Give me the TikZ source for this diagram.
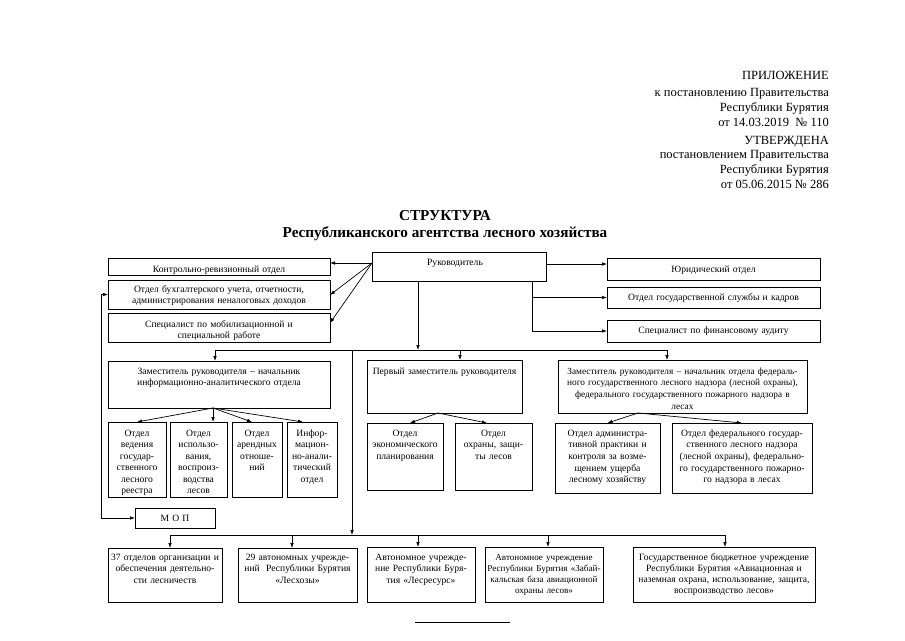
\documentclass[tikz,border=0pt]{standalone}
\usepackage{fontspec}
\setmainfont{Liberation Serif}
\usetikzlibrary{arrows.meta,calc}
\tikzset{
  box/.style={draw, line width=0.7pt, inner sep=0pt, outer sep=0pt, anchor=north west},
  txt/.style={inner sep=0pt, outer sep=0pt, anchor=base, align=center},
  arr/.style={-{Latex[length=5pt,width=3.6pt]}, line width=0.7pt},
  darr/.style={{Latex[length=5pt,width=3.6pt]}-{Latex[length=5pt,width=3.6pt]}, line width=0.7pt},
  ln/.style={line width=0.7pt},
  hdr/.style={inner sep=0pt, anchor=base east, font=\fontsize{12.5}{14}\selectfont},
  ttl/.style={inner sep=0pt, anchor=base, font=\bfseries\fontsize{15.2}{17}\selectfont},
}
\newcommand\mybx[5]{\node[box, minimum width={#4-#2}, minimum height={#5-#3}] (#1) at (#2,#3) {};}
\newcommand\mytx[6]{\node[txt, text width=#4, font=\fontsize{9.6}{#5}\selectfont] (#1) at (#2,#3) {#6};}
\begin{document}
\begin{tikzpicture}[x=1pt,y=-1pt]
\useasboundingbox (0,0) rectangle (905,640);
\fill[white] (0,0) rectangle (905,640);

% header
\node[hdr] (h1) at (829,79) {ПРИЛОЖЕНИЕ};
\node[hdr] (h2) at (829,96) {к постановлению Правительства};
\node[hdr] (h3) at (829,111) {Республики Бурятия};
\node[hdr] (h4) at (829,126) {от 14.03.2019\ \ № 110};
\node[hdr] (h5) at (829,144) {УТВЕРЖДЕНА};
\node[hdr] (h6) at (829,158) {постановлением Правительства};
\node[hdr] (h7) at (829,173) {Республики Бурятия};
\node[hdr] (h8) at (829,188) {от 05.06.2015 № 286};

% title
\node[ttl] (t1) at (445,220) {СТРУКТУРА};
\node[ttl] (t2) at (445,237.5) {Республиканского агентства лесного хозяйства};

% top row boxes
\mybx{kro}{108}{258}{330}{275}
\mytx{kroT}{219}{272}{230}{11}{Контрольно-ревизионный отдел}
\mybx{buh}{108}{280}{330}{309}
\mytx{buhT}{219}{292}{230}{11.5}{Отдел бухгалтерского учета, отчетности,\\администрирования неналоговых доходов}
\mybx{mob}{108}{313}{330}{342}
\mytx{mobT}{219}{327}{230}{11}{Специалист по мобилизационной и\\специальной работе}
\mybx{ruk}{372}{252}{546}{281}
\mytx{rukT}{455}{265}{170}{11}{Руководитель}
\mybx{yur}{607}{258}{820}{280}
\mytx{yurT}{713.5}{272}{220}{11}{Юридический отдел}
\mybx{gos}{607}{287}{820}{308}
\mytx{gosT}{713.5}{300}{220}{11}{Отдел государственной службы и кадров}
\mybx{fin}{607}{320}{820}{342}
\mytx{finT}{713.5}{333}{220}{11}{Специалист по финансовому аудиту}

% deputies
\mybx{dep1}{108}{361}{330}{408}
\mytx{dep1T}{219}{374}{230}{11}{Заместитель руководителя – начальник\\информационно-аналитического отдела}
\mybx{dep2}{367}{360}{522}{413}
\mytx{dep2T}{444.5}{374}{160}{11}{Первый заместитель руководителя}
\mybx{dep3}{558}{360}{807}{413}
\mytx{dep3T}{682.5}{374}{260}{11.7}{\fontsize{9.3}{11.7}\selectfont Заместитель руководителя – начальник отдела федераль-\\ного государственного лесного надзора (лесной охраны),\\федерального государственного пожарного надзора в\\лесах}

% sub departments
\mybx{s1}{108}{422}{166}{497}
\mytx{s1T}{137}{436}{70}{11.5}{Отдел\\ведения\\государ-\\ственного\\лесного\\реестра}
\mybx{s2}{170}{422}{227}{497}
\mytx{s2T}{198.5}{436}{70}{11.5}{Отдел\\использо-\\вания,\\воспроиз-\\водства\\лесов}
\mybx{s3}{232}{422}{282}{497}
\mytx{s3T}{257}{436}{70}{11.5}{Отдел\\арендных\\отноше-\\ний}
\mybx{s4}{287}{422}{337}{497}
\mytx{s4T}{312}{436}{70}{11.5}{Инфор-\\мацион-\\но-анали-\\тический\\отдел}
\mybx{sa}{367}{423}{443}{490}
\mytx{saT}{405}{436}{90}{11.7}{Отдел\\экономического\\планирования}
\mybx{sb}{455}{423}{532}{490}
\mytx{sbT}{493.5}{436}{90}{11.7}{Отдел\\охраны, защи-\\ты лесов}
\mybx{sc}{555}{423}{660}{493}
\mytx{scT}{607.5}{436}{120}{11.7}{Отдел администра-\\тивной практики и\\контроля за возме-\\щением ущерба\\лесному хозяйству}
\mybx{sd}{672}{423}{812}{493}
\mytx{sdT}{742}{436}{160}{11.7}{Отдел федерального государ-\\ственного лесного надзора\\(лесной охраны), федерально-\\го государственного пожарно-\\го надзора в лесах}

% MOP
\mybx{mop}{135}{508}{215}{528}
\mytx{mopT}{175}{521}{80}{11}{М О П}

% bottom boxes
\mybx{b1}{108}{548}{222}{602}
\mytx{b1T}{165}{560}{130}{11.5}{37 отделов организации и\\обеспечения деятельно-\\сти лесничеств}
\mybx{b2}{238}{548}{357}{602}
\mytx{b2T}{297.5}{560}{140}{11.5}{29 автономных учрежде-\\ний\ \ Республики Бурятия\\«Лесхозы»}
\mybx{b3}{367}{547}{475}{602}
\mytx{b3T}{421}{560}{130}{11.5}{Автономное учрежде-\\ние Республики Буря-\\тия «Лесресурс»}
\mybx{b4}{485}{547}{603}{602}
\mytx{b4T}{544}{560}{140}{11.3}{\fontsize{9.1}{11.3}\selectfont Автономное учреждение\\Республики Бурятия «Забай-\\кальская база авиационной\\охраны лесов»}
\mybx{b5}{633}{547}{815}{602}
\mytx{b5T}{724}{560}{210}{11.3}{Государственное бюджетное учреждение\\Республики Бурятия «Авиационная и\\наземная охрана, использование, защита,\\воспроизводство лесов»}

% connectors: head to left column
\coordinate (rl) at ($(ruk.north west)+(0,11)$);
\draw[arr] (rl) -- (kro.east |- rl);
\draw[arr] (rl) -- ($(buh.east)+(0,0.5)$);
\draw[arr] (rl) -- ($(mob.east)+(0,-4.5)$);

% head to right column
\coordinate (rr) at ($(ruk.north east)+(0,12)$);
\draw[arr] (rr) -- (yur.west |- rr);
\coordinate (rv) at ($(ruk.south west)+(160,0)$);
\draw[arr] (rv) |- (gos.west);
\draw[arr] (rv) |- (fin.west);

% head to deputies bus
\coordinate (bus) at (418,350);
\draw[arr] (ruk.south -| bus) -- (bus);
\coordinate (busL) at (215,350);
\coordinate (busM) at (460,350);
\coordinate (busR) at (667,350);
\draw[ln] (busL) -- (busR);
\draw[arr] (busL) -- (dep1.north -| busL);
\draw[arr] (busM) -- (dep2.north -| busM);
\draw[arr] (busR) -- (dep3.north -| busR);

% deputy 1 fan
\coordinate (d1b) at ($(dep1.south west)+(105,0)$);
\draw[arr] (d1b) -- (s1.north);
\draw[arr] (d1b) -- (s2.north -| d1b);
\draw[arr] (d1b) -- ($(s3.north)+(-5,0)$);
\draw[arr] (d1b) -- ($(s4.north)+(-9,0)$);

% deputy 2 fan
\coordinate (d2b) at ($(dep2.south west)+(71,0)$);
\draw[arr] (d2b) -- ($(sa.north west)+(43,0)$);
\draw[arr] (d2b) -- ($(sb.north west)+(32,0)$);

% deputy 3 fan
\coordinate (d3b) at ($(dep3.south west)+(80,0)$);
\draw[arr] (d3b) -- (sc.north);
\draw[arr] (d3b) -- (sd.north);

% vertical to bottom bus
\coordinate (vt) at (352,350);
\coordinate (vb) at (352,535);
\draw[arr] (vt) -- (vb);
\coordinate (bl) at (170,535);
\coordinate (br) at (725,535);
\draw[ln] (bl) -- (br);
\coordinate (c2) at (292,535);
\coordinate (c3) at (418,535);
\coordinate (c4) at (548,535);
\draw[arr] (bl) -- (b1.north -| bl);
\draw[arr] (c2) -- (b2.north -| c2);
\draw[arr] (c3) -- (b3.north -| c3);
\draw[arr] (c4) -- (b4.north -| c4);
\draw[arr] (br) -- (b5.north -| br);

% left loop
\coordinate (lt) at (101,294.5);
\coordinate (lb) at (101,518);
\draw[darr] (buh.west |- lt) -- (lt) -- (lb) -- (mop.west |- lb);

% footnote rule
\coordinate (f1) at (415,622);
\coordinate (f2) at (510,622);
\draw[line width=0.5pt] (f1) -- (f2);
\end{tikzpicture}
\end{document}
